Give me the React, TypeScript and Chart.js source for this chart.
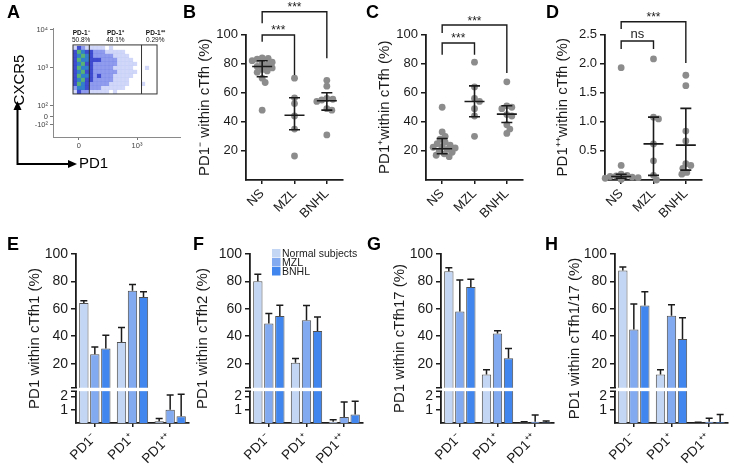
import React, { useEffect, useRef } from "react";
import { Chart, registerables } from "chart.js";
Chart.register(...registerables);

const FONT = "'Liberation Sans', Arial, Helvetica, sans-serif";
const INK = "#1b1b1b";
const DOT = "#8c8c8c";
Chart.defaults.font.family = FONT;
Chart.defaults.color = INK;

// ================= Panel A (flow plot) =================
const A_Y_TICKS = [1.5, 1.71, 2, 3, 4];
const A_Y_LABELS = ["-10²", "0", "10²", "10³", "10⁴"];
const A_X_TICKS = [1.47, 3];
const A_X_LABELS = ["0", "10³"];
const A_GATE_EDGES = [1.316, 1.745, 3.118, 3.526];
const A_GATE_Y = [2.316, 3.605];
const A_GATE_NAMES = ["PD-1⁻", "PD-1⁺", "PD-1⁺⁺"];
const A_GATE_PCT = ["50.8%", "48.1%", "0.29%"];
const A_DENSITY_TOP = 3.579;
const A_DENSITY = [
  "132111110100000000000",
  "354332221111100000000",
  "345432222211110000000",
  "354433322221111000000",
  "345332222221111100000",
  "354432222211111000100",
  "345332222221111100000",
  "354432322211111000000",
  "345332222211110000000",
  "354322222111110001000",
  "244322211111100000000",
  "132211111010000000000",
];
const DENS_COLORS = [
  "rgba(0,0,0,0)",
  "rgba(120,140,235,0.35)",
  "rgba(70,90,225,0.6)",
  "rgba(30,45,200,0.85)",
  "rgba(40,120,200,0.95)",
  "rgba(80,175,110,0.95)",
];

// ================= Panels B-D (dot plots) =================
const GROUPS = ["NS", "MZL", "BNHL"];

const B_NS = [84, 83.5, 83, 82, 81, 80, 79, 78, 77, 76, 75, 74, 70, 67, 48];
const B_MZL = [70, 56.5, 52.5, 44, 35, 16.5];
const B_BNHL = [68.5, 64.5, 56, 55.5, 55, 54, 49, 48, 31];
const B_CENTER = [78, 44.5, 54.5];
const B_LOW = [71, 34.5, 48];
const B_HIGH = [82, 56.5, 60];

const C_NS = [50, 33, 30, 28, 26, 25, 24, 23, 22.5, 22, 21, 20, 19, 18, 17, 16];
const C_MZL = [81, 64, 56, 54, 49, 44, 30];
const C_BNHL = [67.5, 51, 50, 49, 45, 44, 38, 35, 32];
const C_CENTER = [21.5, 54, 45.3];
const C_LOW = [18, 43.5, 39.5];
const C_HIGH = [28.5, 64.7, 51];

const D_NS = [1.93, 0.25, 0.1, 0.08, 0.07, 0.06, 0.05, 0.04, 0.03, 0.02, 0.01];
const D_MZL = [2.08, 1.08, 1.05, 0.62, 0.33, 0.08, 0.0];
const D_BNHL = [1.8, 1.62, 0.84, 0.67, 0.28, 0.25, 0.2, 0.13, 0.1];
const D_CENTER = [0.06, 0.62, 0.6];
const D_LOW = [0.03, 0.08, 0.17];
const D_HIGH = [0.1, 1.08, 1.23];

const PCT_TICKS = [20, 40, 60, 80, 100];
const D_TICKS = [0.5, 1.0, 1.5, 2.0, 2.5];

// ================= Panels E-H (bar charts) =================
const PD1_CATS = ["PD1⁻", "PD1⁺", "PD1⁺⁺"];
const SERIES = ["Normal subjects", "MZL", "BNHL"];
const SERIES_COLORS = ["#c3d7f4", "#82aaf0", "#4186ef"];
const BAR_TICKS = [1, 2, 20, 40, 60, 80, 100];

const E_NS = [64.3, 35.8, 0.13];
const E_NS_ERR = [1.5, 10.5, 0.2];
const E_MZL = [26.8, 73.1, 1.0];
const E_MZL_ERR = [5.3, 4.7, 1.1];
const E_BNHL = [31, 68.7, 0.5];
const E_BNHL_ERR = [9.7, 3.7, 1.65];

const F_NS = [80.2, 20.7, 0.1];
const F_NS_ERR = [5.1, 3.0, 0.15];
const F_MZL = [49.3, 51.7, 0.45];
const F_MZL_ERR = [7.3, 10.7, 1.13];
const F_BNHL = [54.8, 43.9, 0.63];
const F_BNHL_ERR = [7.8, 10.2, 1.0];

const G_NS = [87.5, 12, 0.05];
const G_NS_ERR = [2.5, 3.5, 0.05];
const G_MZL = [58, 42, 0.1];
const G_MZL_ERR = [23, 2, 0.5];
const G_BNHL = [76, 24, 0.05];
const G_BNHL_ERR = [5.5, 7, 0.1];

const H_NS = [88, 12, 0.03];
const H_NS_ERR = [2.5, 3.5, 0.03];
const H_MZL = [45, 55, 0.1];
const H_MZL_ERR = [18.5, 8, 0.25];
const H_BNHL = [62.5, 38, 0.08];
const H_BNHL_ERR = [10, 15.5, 0.55];

// broken axis: lower segment 0..2.5, upper segment 3..100
function brk(v: number) {
  return v <= 2.5 ? v * 13.3 : 36 + (v - 3) * 1.3684;
}
const BREAK_LO = 31.8;
const BREAK_HI = 35.2;

// ---------------- helpers ----------------
function swarm(vals: number[], pxPerY: number, pxPerX: number, minD = 5.2) {
  const placed: { x: number; y: number }[] = [];
  const out: number[] = [];
  for (const v of vals) {
    const y = v * pxPerY;
    let best = 0;
    for (let k = 0; k < 80; k++) {
      const off = (k % 2 === 1 ? 1 : -1) * Math.ceil(k / 2);
      if (placed.every((p) => Math.hypot(p.x - off, p.y - y) >= minD)) {
        best = off;
        break;
      }
    }
    placed.push({ x: best, y });
    out.push(best / pxPerX);
  }
  return out;
}

const axisGrid = (len: number) => ({
  drawOnChartArea: false,
  drawTicks: true,
  tickLength: len,
  color: INK,
  lineWidth: 1.5,
});
const axisBorder = { display: true, color: INK, width: 1.8 };

// ---------------- panel A ----------------
function aConfig(): any {
  const cell = (A_GATE_EDGES[3] - A_GATE_EDGES[0]) / A_DENSITY[0].length;
  const pts: any[] = [];
  const cols: string[] = [];
  A_DENSITY.forEach((row, j) =>
    row.split("").forEach((ch, i) => {
      const lv = +ch;
      if (!lv) return;
      pts.push({ x: A_GATE_EDGES[0] + (i + 0.5) * cell, y: A_DENSITY_TOP - (j + 0.5) * cell });
      cols.push(DENS_COLORS[lv]);
    })
  );
  const small = { family: FONT, size: 7.5 };
  const aPlugin = {
    id: "aDecor",
    afterDraw(chart: any) {
      const { ctx, scales } = chart;
      const x = scales.x, y = scales.y;
      ctx.save();
      ctx.strokeStyle = "#333";
      ctx.lineWidth = 1;
      const yt = y.getPixelForValue(A_GATE_Y[1]);
      const yb = y.getPixelForValue(A_GATE_Y[0]);
      const gx = A_GATE_EDGES.map((g) => x.getPixelForValue(g));
      ctx.strokeRect(gx[0], yt, gx[3] - gx[0], yb - yt);
      ctx.beginPath();
      ctx.moveTo(gx[1], yt); ctx.lineTo(gx[1], yb);
      ctx.moveTo(gx[2], yt); ctx.lineTo(gx[2], yb);
      ctx.stroke();
      ctx.fillStyle = "#111";
      ctx.textAlign = "center";
      ctx.textBaseline = "middle";
      for (let i = 0; i < 3; i++) {
        const cx = (gx[i] + gx[i + 1]) / 2 + (i === 2 ? 6 : 0);
        ctx.font = `bold 6.5px ${FONT}`;
        ctx.fillText(A_GATE_NAMES[i], cx, yt - 12);
        ctx.font = `6.5px ${FONT}`;
        ctx.fillText(A_GATE_PCT[i], cx, yt - 4.5);
      }
      ctx.strokeStyle = "#000";
      ctx.fillStyle = "#000";
      ctx.lineWidth = 2;
      ctx.beginPath();
      ctx.moveTo(17.5, 164); ctx.lineTo(17.5, 109);
      ctx.moveTo(16.5, 164); ctx.lineTo(70, 164);
      ctx.stroke();
      ctx.beginPath();
      ctx.moveTo(17.5, 101); ctx.lineTo(13.5, 110); ctx.lineTo(21.5, 110); ctx.closePath(); ctx.fill();
      ctx.beginPath();
      ctx.moveTo(77, 164); ctx.lineTo(68, 160); ctx.lineTo(68, 168); ctx.closePath(); ctx.fill();
      ctx.font = `15px ${FONT}`;
      ctx.textAlign = "left";
      ctx.fillText("PD1", 79, 164);
      ctx.save();
      ctx.translate(20, 80);
      ctx.rotate(-Math.PI / 2);
      ctx.textAlign = "center";
      ctx.fillText("CXCR5", 0, 0);
      ctx.restore();
      ctx.restore();
    },
  };
  return {
    type: "scatter",
    data: {
      datasets: [
        {
          data: pts,
          pointStyle: "rect",
          pointRadius: 2.95,
          pointHoverRadius: 2.95,
          pointBorderWidth: 0,
          pointBackgroundColor: cols,
          clip: false,
        },
      ],
    },
    options: {
      responsive: false,
      animation: false,
      events: [],
      layout: { padding: { left: 0, top: 28, right: 3, bottom: 0 } },
      plugins: { legend: { display: false }, tooltip: { enabled: false } },
      scales: {
        x: {
          type: "linear",
          min: 0.79,
          max: 4.13,
          afterBuildTicks: (sc: any) => { sc.ticks = A_X_TICKS.map((v) => ({ value: v })); },
          afterFit: (sc: any) => { sc.height = 93; },
          grid: { drawOnChartArea: false, tickLength: 3, color: "#777" },
          border: { color: "#8a8a8a", width: 1 },
          ticks: { font: small, color: "#444", padding: 1, maxRotation: 0, autoSkip: false, callback: (_v: any, i: number) => A_X_LABELS[i] },
        },
        y: {
          type: "linear",
          min: 1.184,
          max: 4.05,
          afterBuildTicks: (sc: any) => { sc.ticks = A_Y_TICKS.map((v) => ({ value: v })); },
          afterFit: (sc: any) => { sc.width = 53; },
          grid: { drawOnChartArea: false, tickLength: 3, color: "#777" },
          border: { color: "#8a8a8a", width: 1 },
          ticks: { font: small, color: "#444", padding: 2, autoSkip: false, callback: (_v: any, i: number) => A_Y_LABELS[i] },
        },
      },
    },
    plugins: [aPlugin],
  };
}

// ---------------- dot plots ----------------
type Bracket = { a: number; b: number; y: number; ya: number; yb: number; text: string };

function dotConfig(s: any): any {
  const plotW = 97;
  const pxPerY = 145.5 / s.yMax;
  const datasets = s.groups.map((vals: number[], gi: number) => {
    const offs = swarm(vals, pxPerY, plotW / 3);
    return {
      data: vals.map((v, k) => ({ x: gi + offs[k], y: v })),
      pointRadius: 3.4,
      pointHoverRadius: 3.4,
      pointBorderWidth: 0,
      pointBackgroundColor: DOT,
      clip: false,
    };
  });
  const marks = {
    id: "marks",
    afterDatasetsDraw(chart: any) {
      const { ctx, scales } = chart;
      const x = scales.x, y = scales.y;
      ctx.save();
      ctx.strokeStyle = INK;
      ctx.lineWidth = 1.6;
      s.center.forEach((c: number, i: number) => {
        const px = x.getPixelForValue(i);
        const yc = y.getPixelForValue(c);
        const yl = y.getPixelForValue(s.low[i]);
        const yh = y.getPixelForValue(s.high[i]);
        ctx.beginPath();
        ctx.moveTo(px - 10, yc); ctx.lineTo(px + 10, yc);
        ctx.moveTo(px, yl); ctx.lineTo(px, yh);
        ctx.moveTo(px - 5.5, yl); ctx.lineTo(px + 5.5, yl);
        ctx.moveTo(px - 5.5, yh); ctx.lineTo(px + 5.5, yh);
        ctx.stroke();
      });
      ctx.restore();
    },
  };
  const brackets = {
    id: "brackets",
    afterDraw(chart: any) {
      const { ctx, scales } = chart;
      const x = scales.x, y = scales.y;
      ctx.save();
      ctx.strokeStyle = INK;
      ctx.fillStyle = INK;
      ctx.lineWidth = 1.4;
      ctx.textAlign = "center";
      ctx.textBaseline = "alphabetic";
      s.brackets.forEach((b: Bracket) => {
        const xa = x.getPixelForValue(b.a);
        const xb = x.getPixelForValue(b.b);
        const yy = y.getPixelForValue(b.y);
        ctx.beginPath();
        ctx.moveTo(xa, y.getPixelForValue(b.ya));
        ctx.lineTo(xa, yy);
        ctx.lineTo(xb, yy);
        ctx.lineTo(xb, y.getPixelForValue(b.yb));
        ctx.stroke();
        const ns = b.text === "ns";
        ctx.font = `${ns ? 13 : 12}px ${FONT}`;
        ctx.fillText(b.text, (xa + xb) / 2, yy - (ns ? 3 : 0.5));
      });
      ctx.restore();
    },
  };
  return {
    type: "scatter",
    data: { datasets },
    options: {
      responsive: false,
      animation: false,
      events: [],
      layout: { padding: { left: 0, top: 34.5, right: s.w - s.yW - plotW, bottom: 0 } },
      plugins: { legend: { display: false }, tooltip: { enabled: false } },
      scales: {
        x: {
          type: "linear",
          min: -0.5,
          max: 2.5,
          afterBuildTicks: (sc: any) => { sc.ticks = [0, 1, 2].map((v) => ({ value: v })); },
          afterFit: (sc: any) => { sc.height = 50; },
          grid: axisGrid(4),
          border: axisBorder,
          ticks: {
            autoSkip: false,
            maxRotation: 45,
            minRotation: 45,
            padding: 2,
            color: INK,
            font: { family: FONT, size: 13 },
            callback: (v: any) => GROUPS[Math.round(v)],
          },
        },
        y: {
          type: "linear",
          min: 0,
          max: s.yMax,
          afterBuildTicks: (sc: any) => { sc.ticks = s.ticks.map((v: number) => ({ value: v })); },
          afterFit: (sc: any) => { sc.width = s.yW; },
          grid: axisGrid(5),
          border: axisBorder,
          ticks: { padding: 3, color: INK, font: { family: FONT, size: 13 }, callback: (v: any) => s.fmt(v) },
          title: {
            display: true,
            text: s.title,
            color: INK,
            font: { family: FONT, size: 15 },
            padding: { top: s.titlePad, bottom: 0 },
          },
        },
      },
    },
    plugins: [marks, brackets],
  };
}

// ---------------- bar charts ----------------
function barConfig(s: any): any {
  const errPlugin = {
    id: "errs",
    afterDatasetsDraw(chart: any) {
      const { ctx, scales } = chart;
      const y = scales.y;
      ctx.save();
      ctx.strokeStyle = INK;
      ctx.lineWidth = 1.5;
      s.vals.forEach((vals: number[], k: number) => {
        const meta = chart.getDatasetMeta(k);
        vals.forEach((v, i) => {
          const el = meta.data[i];
          const y0 = y.getPixelForValue(brk(v));
          const y1 = y.getPixelForValue(brk(v + s.errs[k][i]));
          ctx.beginPath();
          ctx.moveTo(el.x, y0); ctx.lineTo(el.x, y1);
          ctx.moveTo(el.x - 3.5, y1); ctx.lineTo(el.x + 3.5, y1);
          ctx.stroke();
        });
      });
      ctx.restore();
    },
  };
  const breakPlugin = {
    id: "brk",
    afterDraw(chart: any) {
      const { ctx, chartArea, scales } = chart;
      const y = scales.y;
      const yLo = y.getPixelForValue(BREAK_LO);
      const yHi = y.getPixelForValue(BREAK_HI);
      ctx.save();
      ctx.fillStyle = "#fff";
      ctx.fillRect(chartArea.left - 1.5, yHi, chartArea.right - chartArea.left + 3, yLo - yHi);
      ctx.strokeStyle = INK;
      ctx.lineWidth = 1.5;
      ctx.beginPath();
      ctx.moveTo(chartArea.left - 5, yHi); ctx.lineTo(chartArea.left + 1, yHi);
      ctx.moveTo(chartArea.left - 5, yLo); ctx.lineTo(chartArea.left + 1, yLo);
      ctx.stroke();
      ctx.restore();
    },
  };
  const legendPlugin = {
    id: "legendBox",
    afterDraw(chart: any) {
      const { ctx, chartArea } = chart;
      const x0 = chartArea.left + 22;
      const y0 = chartArea.top - 5;
      ctx.save();
      ctx.textBaseline = "middle";
      ctx.textAlign = "left";
      ctx.font = `10.5px ${FONT}`;
      SERIES.forEach((name, k) => {
        ctx.fillStyle = SERIES_COLORS[k];
        ctx.fillRect(x0, y0 + k * 9, 8.5, 8.5);
        ctx.fillStyle = INK;
        ctx.fillText(name, x0 + 10, y0 + k * 9 + 4.8);
      });
      ctx.restore();
    },
  };
  return {
    type: "bar",
    data: {
      labels: PD1_CATS,
      datasets: SERIES.map((name, k) => ({
        label: name,
        data: s.vals[k].map(brk),
        backgroundColor: SERIES_COLORS[k],
        borderColor: "#505050",
        borderWidth: 1,
        categoryPercentage: 0.876,
        barPercentage: 0.85,
      })),
    },
    options: {
      responsive: false,
      animation: false,
      events: [],
      layout: { padding: { left: 0, top: 24, right: s.w - s.yW - 113, bottom: 0 } },
      plugins: { legend: { display: false }, tooltip: { enabled: false } },
      scales: {
        x: {
          offset: true,
          afterFit: (sc: any) => { sc.height = 42; },
          grid: { ...axisGrid(4), offset: false },
          border: axisBorder,
          ticks: {
            autoSkip: false,
            maxRotation: 45,
            minRotation: 45,
            padding: 3,
            color: INK,
            font: { family: FONT, size: 13.5 },
          },
        },
        y: {
          type: "linear",
          min: 0,
          max: brk(100),
          afterBuildTicks: (sc: any) => { sc.ticks = BAR_TICKS.map((v) => ({ value: brk(v) })); },
          afterFit: (sc: any) => { sc.width = s.yW; },
          grid: axisGrid(5),
          border: axisBorder,
          ticks: {
            padding: 3,
            color: INK,
            autoSkip: false,
            font: { family: FONT, size: 14 },
            callback: (_v: any, i: number) => String(BAR_TICKS[i]),
          },
          title: {
            display: true,
            text: s.title,
            color: INK,
            font: { family: FONT, size: 15 },
            padding: { top: s.titlePad, bottom: 0 },
          },
        },
      },
    },
    plugins: s.legend ? [errPlugin, breakPlugin, legendPlugin] : [errPlugin, breakPlugin],
  };
}

// ---------------- layout ----------------
const PANELS: any[] = [
  { x: 0, y: 0, w: 183, h: 230, make: () => aConfig() },
  {
    x: 183, y: 0, w: 182, h: 230,
    make: () => dotConfig({
      w: 182, yW: 63, titlePad: 13, yMax: 100, ticks: PCT_TICKS, fmt: (v: number) => String(v),
      title: "PD1⁻ within cTfh (%)",
      groups: [B_NS, B_MZL, B_BNHL], center: B_CENTER, low: B_LOW, high: B_HIGH,
      brackets: [
        { a: 0, b: 1, y: 99.7, ya: 95, yb: 72.2, text: "***" },
        { a: 0, b: 2, y: 115.6, ya: 107.7, yb: 83.6, text: "***" },
      ],
    }),
  },
  {
    x: 365, y: 0, w: 180, h: 230,
    make: () => dotConfig({
      w: 180, yW: 61, titlePad: 11, yMax: 100, ticks: PCT_TICKS, fmt: (v: number) => String(v),
      title: "PD1⁺within cTfh (%)",
      groups: [C_NS, C_MZL, C_BNHL], center: C_CENTER, low: C_LOW, high: C_HIGH,
      brackets: [
        { a: 0, b: 1, y: 94.2, ya: 86, yb: 86, text: "***" },
        { a: 0, b: 2, y: 106.5, ya: 101, yb: 73.5, text: "***" },
      ],
    }),
  },
  {
    x: 545, y: 0, w: 186, h: 230,
    make: () => dotConfig({
      w: 186, yW: 60, titlePad: 9, yMax: 2.5, ticks: D_TICKS, fmt: (v: number) => v.toFixed(1),
      title: "PD1⁺⁺within cTfh (%)",
      groups: [D_NS, D_MZL, D_BNHL], center: D_CENTER, low: D_LOW, high: D_HIGH,
      brackets: [
        { a: 0, b: 1, y: 2.388, ya: 2.25, yb: 2.25, text: "ns" },
        { a: 0, b: 2, y: 2.72, ya: 2.594, yb: 2.01, text: "***" },
      ],
    }),
  },
  {
    x: 0, y: 230, w: 191, h: 235,
    make: () => barConfig({
      w: 191, yW: 76, titlePad: 26, title: "PD1 within cTfh1 (%)",
      vals: [E_NS, E_MZL, E_BNHL], errs: [E_NS_ERR, E_MZL_ERR, E_BNHL_ERR],
    }),
  },
  {
    x: 190, y: 230, w: 177, h: 235,
    make: () => barConfig({
      w: 177, yW: 60, titlePad: 4, title: "PD1 within cTfh2 (%)", legend: true,
      vals: [F_NS, F_MZL, F_BNHL], errs: [F_NS_ERR, F_MZL_ERR, F_BNHL_ERR],
    }),
  },
  {
    x: 370, y: 230, w: 188, h: 235,
    make: () => barConfig({
      w: 188, yW: 71, titlePad: 21, title: "PD1 within cTfh17 (%)",
      vals: [G_NS, G_MZL, G_BNHL], errs: [G_NS_ERR, G_MZL_ERR, G_BNHL_ERR],
    }),
  },
  {
    x: 556, y: 230, w: 175, h: 235,
    make: () => barConfig({
      w: 175, yW: 59, titlePad: 10, title: "PD1 within cTfh1/17 (%)",
      vals: [H_NS, H_MZL, H_BNHL], errs: [H_NS_ERR, H_MZL_ERR, H_BNHL_ERR],
    }),
  },
];

const LETTERS: [string, number, number][] = [
  ["A", 7, 5], ["B", 183, 5], ["C", 366, 5], ["D", 546, 5],
  ["E", 7, 237], ["F", 193, 237], ["G", 367, 237], ["H", 545, 237],
];

export default function App() {
  const refs = useRef<(HTMLCanvasElement | null)[]>([]);
  useEffect(() => {
    const charts = PANELS.map((p, i) => new Chart(refs.current[i] as HTMLCanvasElement, p.make()));
    return () => charts.forEach((c) => c.destroy());
  }, []);
  return (
    <div style={{ position: "absolute", left: 0, top: 0, width: 731, height: 465, background: "#fff", overflow: "hidden" }}>
      {PANELS.map((p, i) => (
        <canvas
          key={i}
          ref={(el) => { refs.current[i] = el; }}
          width={p.w}
          height={p.h}
          style={{ position: "absolute", left: p.x, top: p.y, width: p.w, height: p.h }}
        />
      ))}
      {LETTERS.map(([t, x, y]) => (
        <div
          key={t}
          style={{
            position: "absolute",
            left: x,
            top: y - 2.4,
            font: `bold 18px ${FONT}`,
            lineHeight: "18px",
            color: "#000",
          }}
        >
          {t}
        </div>
      ))}
    </div>
  );
}
